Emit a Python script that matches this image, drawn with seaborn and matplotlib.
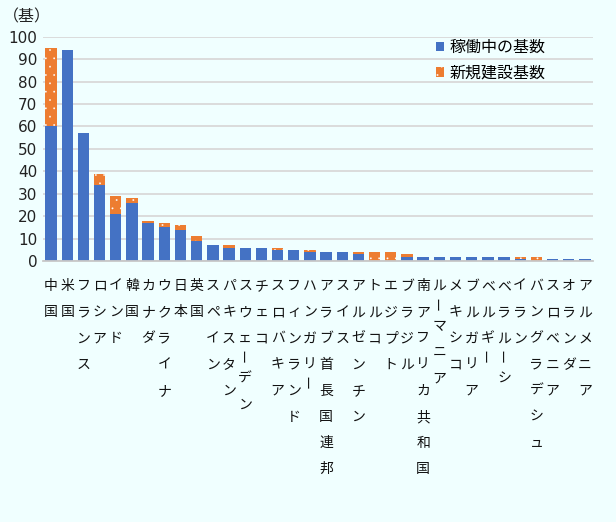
import matplotlib
matplotlib.use('Agg')
import matplotlib.pyplot as plt
from matplotlib.patches import Patch
import seaborn as sns

# 国別の原子炉基数（稼働中＋新規建設）
countries = ['中国', '米国', 'フランス', 'ロシア', 'インド', '韓国', 'カナダ', 'ウクライナ',
             '日本', '英国', 'スペイン', 'パキスタン', 'スウェーデン', 'チェコ', 'スロバキア',
             'フィンランド', 'ハンガリー', 'アラブ首長国連邦', 'スイス', 'アルゼンチン', 'トルコ',
             'エジプト', 'ブラジル', '南アフリカ共和国', 'ルーマニア', 'メキシコ', 'ブルガリア',
             'ベルギー', 'ベラルーシ', 'イラン', 'バングラデシュ', 'スロベニア', 'オランダ', 'アルメニア']
operating = [60, 94, 57, 34, 21, 26, 17, 15, 14, 9, 7, 6, 6, 6, 5, 5, 4, 4, 4, 3, 0, 0,
             2, 2, 2, 2, 2, 2, 2, 1, 0, 1, 1, 1]
new_build = [35, 0, 0, 5, 8, 2, 1, 2, 2, 2, 0, 1, 0, 0, 1, 0, 1, 0, 0, 1, 4, 4,
             1, 0, 0, 0, 0, 0, 0, 1, 2, 0, 0, 0]
yticks = list(range(0, 101, 10))
legend_labels = ['稼働中の基数', '新規建設基数']

blue = '#4472C4'
orange = '#ED7D31'
bg = '#F0FFFF'

plt.rcParams['font.family'] = ['Noto Sans CJK JP', 'DejaVu Sans']
plt.rcParams['hatch.linewidth'] = 0.1

fig = plt.figure(figsize=(6.16, 5.22), dpi=100, facecolor=bg)
ax = fig.add_axes([43 / 616, 0.5, 550 / 616, (261 - 36.7) / 522])
ax.set_facecolor(bg)

totals = [o + n for o, n in zip(operating, new_build)]
# orange (with dots) drawn to the total height, blue over it from zero
sns.barplot(x=countries, y=totals, color=orange, saturation=1, width=0.7,
            hatch='..', edgecolor='white', linewidth=0, errorbar=None, ax=ax)
sns.barplot(x=countries, y=operating, color=blue, saturation=1, width=0.7,
            linewidth=0, errorbar=None, ax=ax)

ax.set_xlim(-0.5, len(countries) - 0.5)
ax.set_ylim(0, 100)
ax.set_yticks(yticks)
ax.set_yticklabels([str(v) for v in yticks], fontsize=11, color='#222222',
                   family=['DejaVu Sans'])
ax.set_xticks([])
ax.set_xlabel('')
ax.set_ylabel('')
ax.tick_params(axis='y', length=0, pad=4)
ax.yaxis.grid(True, color='#D9D9D9', linewidth=1.3)
ax.set_axisbelow(True)
for s in ['top', 'left', 'right']:
    ax.spines[s].set_visible(False)
ax.spines['bottom'].set_color('#C8C8C8')
ax.spines['bottom'].set_linewidth(1.3)

# vertical country labels, one character per row
for i, name in enumerate(countries):
    y = 25.0
    prev = None
    for k, ch in enumerate(name):
        if k > 0:
            if ch == 'ー':
                y += 16.7
            elif prev == 'ー':
                y += 23.3
            else:
                y += 26.2
        ax.annotate(ch, xy=(i, 0), xycoords=('data', 'axes fraction'),
                    xytext=(0, -y), textcoords='offset pixels',
                    ha='center', va='center', fontsize=10, color='#111111',
                    rotation=90 if ch == 'ー' else 0, annotation_clip=False)
        prev = ch

fig.text(3 / 616, 1 - 17 / 522, '（基）', fontsize=11.5, ha='left', va='center', color='#222222')

handles = [Patch(facecolor=blue, linewidth=0),
           Patch(facecolor=orange, hatch='..', edgecolor='white', linewidth=0)]
fig.legend(handles, legend_labels, loc='upper left', bbox_to_anchor=(436 / 616, 1 - 39 / 522),
           frameon=False, fontsize=11.5, handlelength=0.52, handleheight=0.52,
           handletextpad=0.35, labelspacing=0.55, borderpad=0, borderaxespad=0)

fig.savefig('out.png', dpi=100, facecolor=bg)
